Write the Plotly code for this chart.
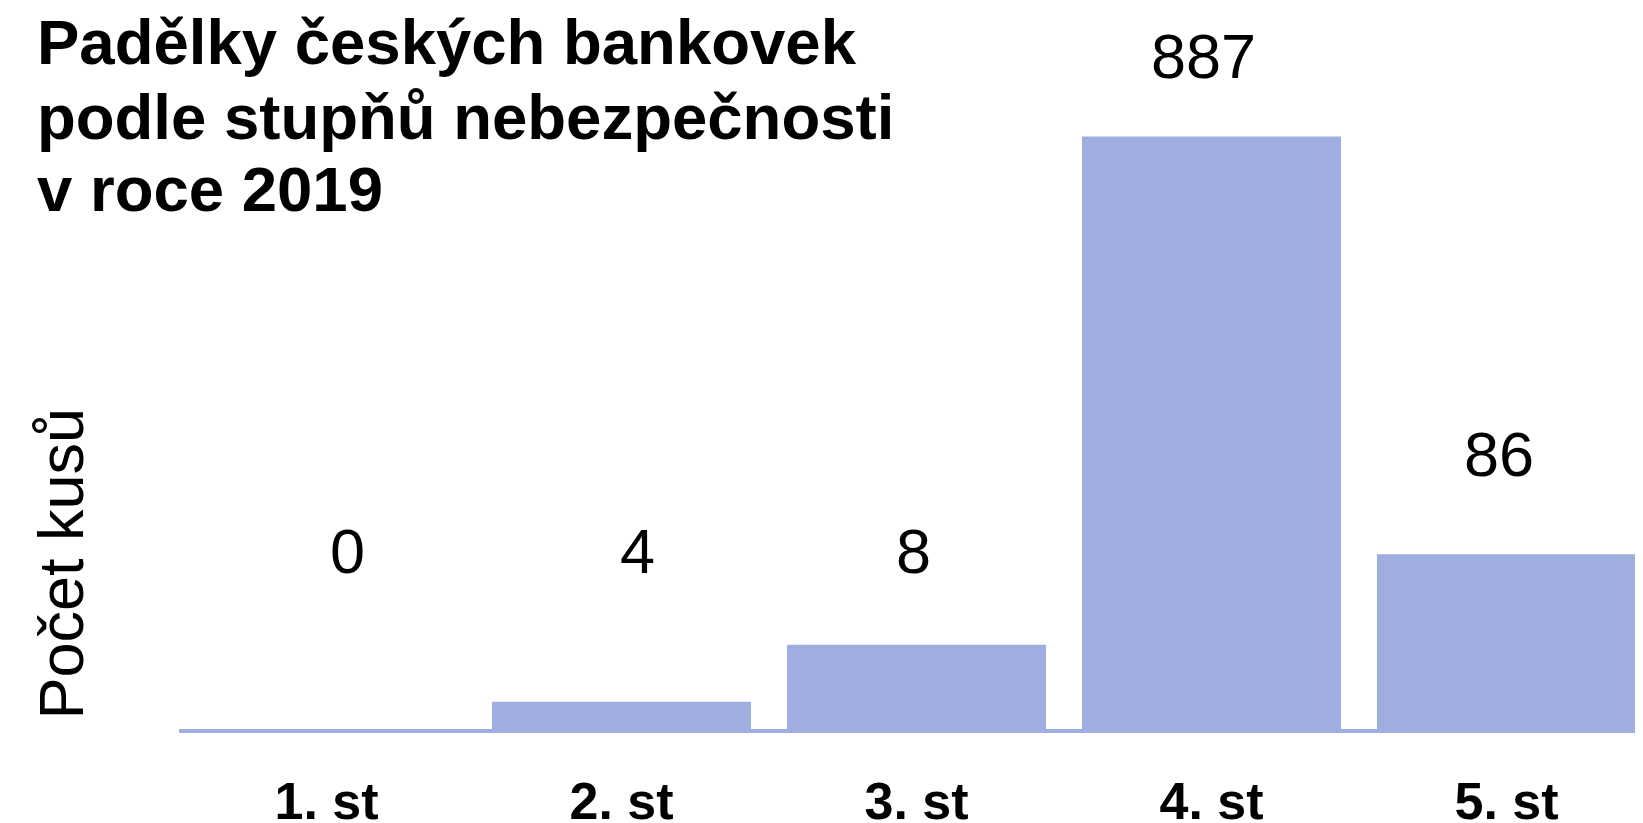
import plotly.graph_objects as go

# ---- data ----
categories = ["1. st", "2. st", "3. st", "4. st", "5. st"]
counts = [0, 4, 8, 887, 86]                      # printed values
bar_lengths = [0.0, 4.6, 14.2, 100.0, 29.5]       # drawn bar length, % of tallest bar
title_lines = ["Padělky českých bankovek", "podle stupňů nebezpečnosti", "v roce 2019"]
y_title = "Počet kusů"

# ---- layout helpers ----
OFF = 8                      # page body margin offsets the figure by 8 px
W, H = 1643 - OFF, 823 - OFF
M_L = 179 - OFF
BASE = 729.5 - OFF           # baseline row in figure pixels
M_B = H - BASE
PLOT_H = BASE
Y_MAX = 100.0 * PLOT_H / 593.0
BAR_COLOR = "#9FADE1"
FONT = "Liberation Sans, Arial, sans-serif"

def py(px):
    """page pixel row -> paper y"""
    return (PLOT_H - (px - OFF)) / PLOT_H

def px_x(px):
    """page pixel column -> paper x"""
    return (px - OFF - M_L) / (W - M_L)

label_y = [30.1, 30.1, 30.1, 113.6, 46.4]   # label centre positions in the bar-length unit
label_dx = [21, 16, -3, -8, -8]

fig = go.Figure(go.Bar(
    x=categories, y=bar_lengths, marker=dict(color=BAR_COLOR, line=dict(width=0)),
    width=0.878, hoverinfo="skip",
))

ann = []
for i, (c, v) in enumerate(zip(categories, counts)):
    ann.append(dict(x=c, y=label_y[i], xref="x", yref="y", text=str(v), showarrow=False,
                    xshift=label_dx[i], yanchor="middle", xanchor="center",
                    font=dict(family=FONT, size=63, color="black")))

title_px = [42, 117, 189]
for t, yp in zip(title_lines, title_px):
    ann.append(dict(x=px_x(35), y=py(yp), xref="paper", yref="paper", text=t, showarrow=False,
                    xanchor="left", yanchor="middle",
                    font=dict(family=FONT, size=63.5, color="black", weight="bold")))

ann.append(dict(x=px_x(61), y=py(564), xref="paper", yref="paper", text=y_title, showarrow=False,
                textangle=-90, xanchor="center", yanchor="middle",
                font=dict(family=FONT, size=63, color="black")))

fig.update_layout(
    width=W, height=H,
    margin=dict(l=M_L, r=0, t=0, b=M_B, pad=0),
    plot_bgcolor="white", paper_bgcolor="white",
    showlegend=False,
    annotations=ann,
    xaxis=dict(range=[-0.5, 4.5 - 11 / 295], showline=True, linecolor=BAR_COLOR, linewidth=4,
               showgrid=False, zeroline=False, ticks="", automargin=False,
               tickfont=dict(family=FONT, size=52, color="black", weight="bold"),
               ticklabelstandoff=24),
    yaxis=dict(range=[0, Y_MAX], visible=False, showgrid=False, zeroline=False, automargin=False),
)

fig.write_html("out.html")
